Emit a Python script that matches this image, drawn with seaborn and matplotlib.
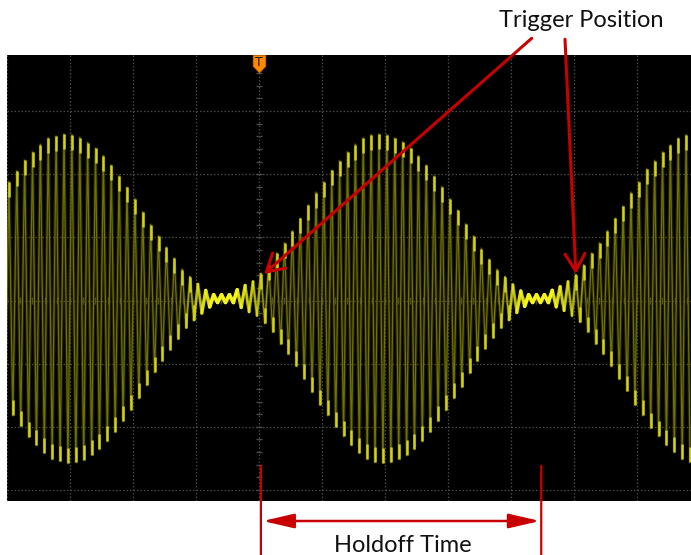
import numpy as np
import pandas as pd
import matplotlib
matplotlib.use("Agg")
import matplotlib.pyplot as plt
import seaborn as sns
from matplotlib.path import Path
from matplotlib.markers import MarkerStyle
from matplotlib.collections import LineCollection
from matplotlib.colors import to_rgba

# ---------------- data (units: screen divisions) ----------------
# peak amplitude of every carrier cycle, left to right
envelope_div = [
    1.85, 2.02, 2.19, 2.32, 2.44, 2.54, 2.57, 2.60, 2.59, 2.55,
    2.47, 2.38, 2.26, 2.11, 1.94, 1.76, 1.58, 1.37, 1.17, 0.99,
    0.81, 0.64, 0.46, 0.34, 0.23, 0.13, 0.06, 0.06, 0.06, 0.14,
    0.21, 0.27, 0.39, 0.53, 0.72, 0.88, 1.07, 1.27, 1.48, 1.68,
    1.85, 2.03, 2.18, 2.32, 2.44, 2.54, 2.59, 2.60, 2.59, 2.54,
    2.48, 2.38, 2.26, 2.11, 1.94, 1.77, 1.58, 1.40, 1.18, 0.99,
    0.79, 0.62, 0.46, 0.34, 0.22, 0.12, 0.06, 0.06, 0.06, 0.13,
    0.19, 0.27, 0.37, 0.53, 0.72, 0.88, 1.07, 1.27, 1.46, 1.68,
    1.85, 2.05, 2.18, 2.32, 2.43, 2.54, 2.59,
]
carrier_period_div = 0.125      # one carrier cycle = 1/8 division
first_peak_div = -3.97          # time of the first visible positive peak
trace_offset_div = 0.03         # vertical offset of the trace

trigger_times_div = [0.08, 5.03]
trigger_level_div = 0.42
holdoff_start_div = 0.03
holdoff_end_div = 4.48

trigger_label = "Trigger Position"
holdoff_label = "Holdoff Time"

x_view = (-3.975, 6.857)
y_view = (-3.175, 3.888)
x_grid = list(range(-4, 7))
y_grid = list(range(-3, 4))

# ---------------- build the trace table ----------------
rows = [(first_peak_div - carrier_period_div / 2, trace_offset_div - envelope_div[0], envelope_div[0])]
for k, a in enumerate(envelope_div):
    t = first_peak_div + k * carrier_period_div
    rows.append((t, trace_offset_div + a, a))
    rows.append((t + carrier_period_div / 2, trace_offset_div - a, a))
trace = pd.DataFrame(rows, columns=["t", "v", "amp"])
peaks = trace.iloc[1::2]
troughs = trace.iloc[0::2]
big_peaks = peaks[peaks["amp"] > 0.3]
big_troughs = troughs[troughs["amp"] > 0.3]

# ---------------- figure ----------------
sns.set_theme(style="dark")
plt.rcParams["font.family"] = ["Lato", "DejaVu Sans"]

W, H = 691, 555
fig = plt.figure(figsize=(W / 100, H / 100), dpi=100, facecolor="white")
ax = fig.add_axes([7 / W, (H - 501) / H, 684 / W, 446 / H])
ax.set_facecolor("black")
for s in ax.spines.values():
    s.set_visible(False)

ax.set_xlim(*x_view)
ax.set_ylim(*y_view)
ax.set_xticks(x_grid)
ax.set_yticks(y_grid)
ax.tick_params(length=0, labelbottom=False, labelleft=False)
ax.grid(True, color="#4a4a4a", linestyle=(0, (1.2, 1.6)), linewidth=0.9)

# graticule ticks on the centre lines
ax.vlines(np.arange(-4, 7.01, 0.2), -0.05, 0.05, color="#4a4a4a", lw=1.0, zorder=1)
ax.hlines(np.arange(-3.2, 3.9, 0.2), -0.055, 0.055, color="#4a4a4a", lw=1.0, zorder=1)

# dim trace (fast slopes) with soft glow
ax.plot(trace["t"], trace["v"], color="#5a5a00", lw=2.4, alpha=0.35, zorder=2)
sns.lineplot(data=trace, x="t", y="v", sort=False, estimator=None, ax=ax,
             color="#727200", lw=0.9, zorder=3)
ax.set_xlabel("")
ax.set_ylabel("")

# bright overlay where the signal is small (slow slopes -> high intensity)
pts = trace[["t", "v"]].to_numpy()
segs = np.stack([pts[:-1], pts[1:]], axis=1)
seg_amp = np.minimum(trace["amp"].to_numpy()[:-1], trace["amp"].to_numpy()[1:])
w = np.clip(1 - (seg_amp - 0.06) / 0.45, 0, 1)
base = np.array(to_rgba("#f4f41c"))
cols = np.tile(base, (len(segs), 1))
cols[:, 3] = w
lc = LineCollection(segs, colors=cols, linewidths=0.8 + 1.9 * w, zorder=4,
                    capstyle="round", joinstyle="round")
ax.add_collection(lc)

# bright tips of the large cycles
tip_down = MarkerStyle(Path([(0, 0), (0, -1)]))
tip_up = MarkerStyle(Path([(0, 0), (0, 1)]))
ax.plot(big_peaks["t"], big_peaks["v"], ls="none", marker=tip_down, markersize=21,
        mec="#d2d216", mew=1.8, zorder=4)
ax.plot(big_troughs["t"], big_troughs["v"], ls="none", marker=tip_up, markersize=21,
        mec="#d2d216", mew=1.8, zorder=4)

# trigger marker at top (anchored at its top edge)
trig_mark = MarkerStyle(Path([(-0.36, 0), (0.36, 0), (0.36, -0.62), (0, -1),
                              (-0.36, -0.62), (-0.36, 0)]))
ax.plot([0], [y_view[1]], marker=trig_mark, markersize=25, ls="none",
        mfc="#ff8a00", mec="#d06a00", mew=0.6, clip_on=False, zorder=6)
ax.annotate("T", xy=(0, y_view[1]), xycoords="data", xytext=(0, -7),
            textcoords="offset pixels", ha="center", va="center", fontsize=9,
            color="#1a1a1a", family="DejaVu Sans", zorder=7,
            annotation_clip=False)

red = "#c80000"
# trigger position arrows
text_anchor_px = [(531.7, H - 38.3), (565.0, H - 39.3)]
for tt, (px, py) in zip(trigger_times_div, text_anchor_px):
    ax.annotate("", xy=(tt, trigger_level_div), xycoords="data",
                xytext=(px, py), textcoords="figure pixels",
                arrowprops=dict(arrowstyle="->,head_length=0.62,head_width=0.36",
                                mutation_scale=20, color=red, lw=2.2,
                                shrinkA=0, shrinkB=0),
                annotation_clip=False, zorder=8)

fig.text(581 / W, (H - 27.3) / H, trigger_label, ha="center", va="baseline",
         fontsize=17, color="#111111")

# holdoff markers
for hx in (holdoff_start_div, holdoff_end_div):
    ax.annotate("", xy=(hx, 0), xycoords=("data", "figure pixels"),
                xytext=(hx, -2.62), textcoords="data",
                arrowprops=dict(arrowstyle="-", color=red, lw=1.6,
                                shrinkA=0, shrinkB=0),
                annotation_clip=False, zorder=8)
ax.annotate("", xy=(holdoff_start_div + 0.03, H - 521), xycoords=("data", "figure pixels"),
            xytext=(holdoff_end_div - 0.02, H - 521), textcoords=("data", "figure pixels"),
            arrowprops=dict(arrowstyle="<|-|>,head_length=0.95,head_width=0.22",
                            mutation_scale=20, color=red, lw=1.8,
                            shrinkA=0, shrinkB=0),
            annotation_clip=False, zorder=8)
fig.text(403 / W, (H - 552) / H, holdoff_label, ha="center", va="baseline",
         fontsize=17, color="#111111")

fig.savefig("out.png", dpi=100, facecolor="white")
